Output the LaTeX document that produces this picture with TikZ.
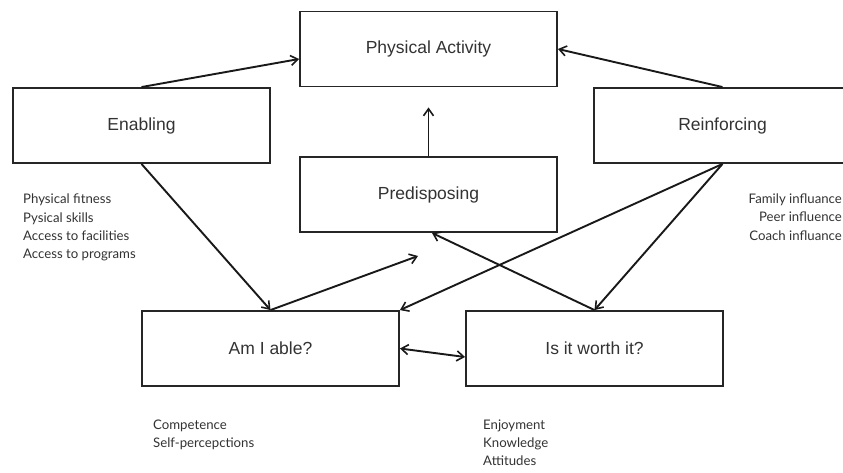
\documentclass[tikz,border=0pt]{standalone}
\usepackage{fontspec}
\setmainfont{Liberation Sans}
\newfontfamily\notefont{Lato}
\usetikzlibrary{arrows.meta}
\begin{document}
\begin{tikzpicture}[x=1pt,y=-1pt,
  box/.style={draw=black!85,line width=1.9pt,minimum width=257pt,minimum height=75pt,
              inner sep=0pt,font=\fontsize{17.5}{20}\selectfont,text=black!80},
  tip/.style={Straight Barb[length=7pt,width=10pt,line width=1.6pt]},
  link/.style={line width=1.9pt,draw=black!90,-{Straight Barb[length=7pt,width=10pt,line width=1.6pt]}},
  twoway/.style={link,{Straight Barb[length=7pt,width=10pt,line width=1.6pt]}-{Straight Barb[length=7pt,width=10pt,line width=1.6pt]}},
  note/.style={inner sep=0pt,text=black!80,font=\notefont\fontsize{13.2}{15}\selectfont}]
\useasboundingbox (0,0) rectangle (843,473);
\fill[white] (0,0) rectangle (843,473);

% factor boxes
\node[box] (pa)    at (428.5,49)    {Physical Activity};
\node[box] (en)    at (141.5,125.5) {Enabling};
\node[box] (re)    at (722.5,125.5) {Reinforcing};
\node[box] (pre)   at (428.5,194.5) {Predisposing};
\node[box] (able)  at (270.5,348.5) {Am I able?};
\node[box] (worth) at (594.5,348.5) {Is it worth it?};

% loose arrow end below Predisposing
\coordinate (toward) at (418,256);

% connectors
\draw[link] (en.north) -- ([yshift=-10pt]pa.west);
\draw[link] (re.north) -- (pa.east);
\draw[link,shorten >=20pt] (pre.north) -- (pa.south);
\draw[link] (en.south) -- (able.north);
\draw[link] (able.north) -- (toward);
\draw[link] (re.south) -- (able.north east);
\draw[link] (re.south) -- (worth.north);
\draw[link] (worth.north) -- ([xshift=3.5pt]pre.south);
\draw[twoway] (able.east) -- ([yshift=-8.5pt]worth.west);

% factor notes
\node[note,anchor=base west] (e1) at (23,204)   {Physical fitness};
\node[note,anchor=base west] (e2) at (23,222.3) {Pysical skills};
\node[note,anchor=base west] (e3) at (23,240.6) {Access to facilities};
\node[note,anchor=base west] (e4) at (23,258.9) {Access to programs};

\node[note,anchor=base east] (r1) at (842,203.5) {Family influance};
\node[note,anchor=base east] (r2) at (842,221.8) {Peer influence};
\node[note,anchor=base east] (r3) at (842,240.1) {Coach influance};

\node[note,anchor=base west] (a1) at (153,429)   {Competence};
\node[note,anchor=base west] (a2) at (153,447.3) {Self-percepctions};

\node[note,anchor=base west] (w1) at (483,429)   {Enjoyment};
\node[note,anchor=base west] (w2) at (483,447.3) {Knowledge};
\node[note,anchor=base west] (w3) at (483,465.6) {Attitudes};
\end{tikzpicture}
\end{document}
